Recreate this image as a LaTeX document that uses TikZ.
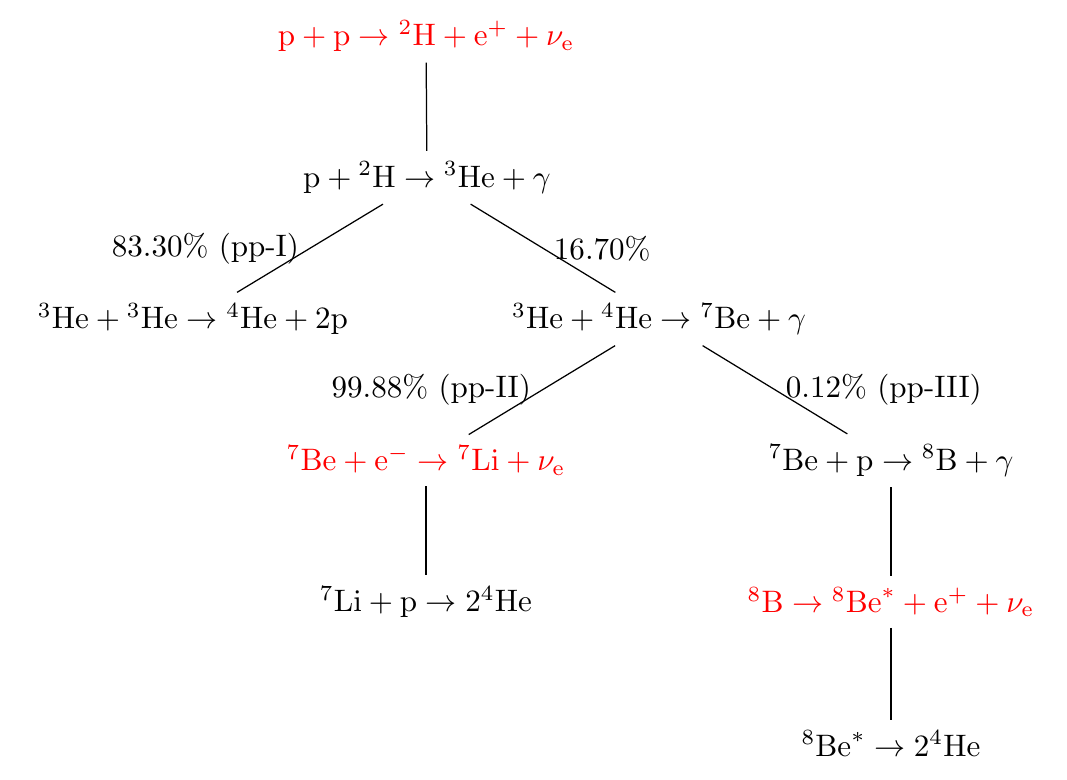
\documentclass[tikz,border=0pt]{standalone}
\begin{document}
\begin{tikzpicture}[x=0.322pt,y=-0.322pt,
  rx/.style={inner sep=3.333pt},
  hot/.style={rx,text=red},
  lbl/.style={inner sep=3.333pt}]
\useasboundingbox (0,0) rectangle (1067,779);
\node[hot] (n1) at (426,36) {$\mathrm{p}+\mathrm{p}\to{}^2\mathrm{H}+\mathrm{e}^+ +\nu_\mathrm{e}$};
\node[rx] (n2) at (427,177.5) {$\mathrm{p}+{}^2\mathrm{H}\to{}^3\mathrm{He}+\gamma$};
\node[rx] (n3) at (193,319) {${}^3\mathrm{He}+{}^3\mathrm{He}\to{}^4\mathrm{He}+2\mathrm{p}$};
\node[rx] (n4) at (659,319) {${}^3\mathrm{He}+{}^4\mathrm{He}\to{}^7\mathrm{Be}+\gamma$};
\node[hot] (n5) at (426,460.5) {${}^7\mathrm{Be}+\mathrm{e}^-\to{}^7\mathrm{Li}+\nu_\mathrm{e}$};
\node[rx] (n6) at (891,460.5) {${}^7\mathrm{Be}+\mathrm{p}\to{}^8\mathrm{B}+\gamma$};
\node[rx] (n7) at (426,602) {${}^7\mathrm{Li}+\mathrm{p}\to2{}^4\mathrm{He}$};
\node[hot] (n8) at (891,602) {${}^8\mathrm{B}\to{}^8\mathrm{Be}^*+\mathrm{e}^+ +\nu_\mathrm{e}$};
\node[rx] (n9) at (891,743.5) {${}^8\mathrm{Be}^*\to2{}^4\mathrm{He}$};
\draw (n1) -- (n2);
\draw (n2) -- node[lbl,left] {83.30\% (pp-I)} (n3);
\draw (n2) -- node[lbl,right] {16.70\%} (n4);
\draw (n4) -- node[lbl,left] {99.88\% (pp-II)} (n5);
\draw (n4) -- node[lbl,right] {0.12\% (pp-III)} (n6);
\draw (n5) -- (n7);
\draw (n6) -- (n8);
\draw (n8) -- (n9);
\end{tikzpicture}
\end{document}
